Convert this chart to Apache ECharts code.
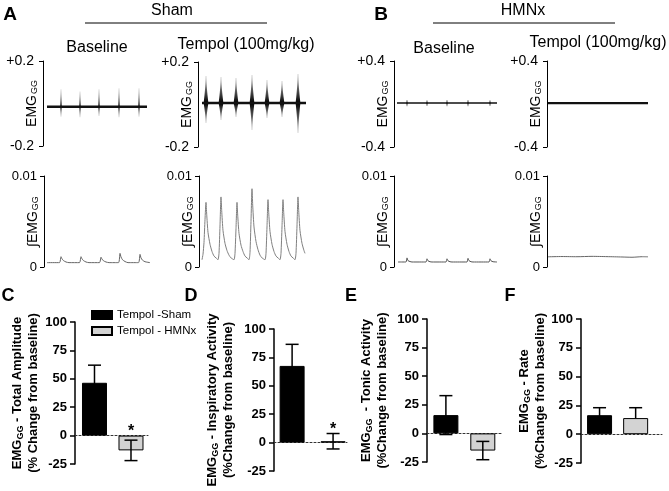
<!DOCTYPE html>
<html><head><meta charset="utf-8">
<script src="https://cdn.jsdelivr.net/npm/echarts@6/dist/echarts.min.js"></script>
<style>html,body{margin:0;padding:0;background:#fff}#c{width:669px;height:491px}</style>
</head><body><div id="c"></div>
<script>
// ================= DATA =================
const groups = ['Tempol -Sham', 'Tempol - HMNx'];
const barX = [1, 2];

// C - total amplitude (% change from baseline)
const totalAmplitude = [46.5, -13];
const totalAmplitudeSemUp = [15.5, 9];
const totalAmplitudeSemDown = [15.5, 9];
const totalAmplitudeSig = ['', '*'];
// D - inspiratory activity
const inspiratory = [67.5, 1.2];
const inspiratorySemUp = [19, 6.8];
const inspiratorySemDown = [19, 6.8];
const inspiratorySig = ['', '*'];
// E - tonic activity
const tonic = [16, -15];
const tonicSemUp = [17, 8];
const tonicSemDown = [17, 8];
const tonicSig = ['', ''];
// F - rate
const rate = [16.5, 14];
const rateSemUp = [6.5, 9];
const rateSemDown = [6.5, 0];
const rateSig = ['', ''];

// Raw EMG traces: level, span [start,end], bursts [time, top, bottom]
const rawShamBaseLevel = -0.015;
const rawShamBaseSpan = [4, 104];
const rawShamBaseBursts = [[18, 0.067, -0.062], [37, 0.056, -0.065], [56, 0.067, -0.059], [76, 0.072, -0.065], [96, 0.072, -0.062]];

const rawShamTempolLevel = 0.007;
const rawShamTempolSpan = [4, 108];
const rawShamTempolBursts = [[8, 0.134, -0.087], [23, 0.129, -0.073], [38, 0.125, -0.059], [54, 0.139, -0.12], [69, 0.115, -0.064], [84, 0.111, -0.059], [100, 0.144, -0.134]];

const rawHmnxBaseLevel = 0.009;
const rawHmnxBaseSpan = [3, 103];
const rawHmnxBaseBursts = [[13, 0.038, -0.02], [33, 0.036, -0.019], [53, 0.037, -0.02], [74, 0.038, -0.02], [96, 0.036, -0.019]];

const rawHmnxTempolLevel = 0.009;
const rawHmnxTempolSpan = [1, 101];
const rawHmnxTempolBursts = [];

// Integrated EMG traces [time, value]
const intShamBase = [[3,0.00048],[15.5,0.00048],[17,0.00113],[18,0.0009],[19.5,0.0007],[22,0.00055],[25,0.00048],
  [35.5,0.00048],[37,0.00113],[38,0.0009],[39.5,0.0007],[42,0.00055],[45,0.00048],
  [55.5,0.00048],[57,0.00107],[58,0.00087],[59.5,0.00068],[62,0.00055],[65,0.00048],
  [74.5,0.00048],[76,0.0015],[77,0.0011],[78.5,0.0008],[81,0.0006],[84,0.00048],
  [94.5,0.00048],[96,0.00139],[97,0.001],[98.5,0.00075],[101,0.00058],[106,0.00048]];

const intShamTempol = [[3,0.0008],[4,0.0014],[5,0.0027],[6,0.0052],[7,0.0071],[7.7,0.0058],[9,0.0038],[11,0.0025],[13,0.0017],[15,0.0012],[17,0.001],[19,0.0008],
  [20,0.0015],[21,0.0045],[22,0.0077],[22.7,0.0062],[24,0.004],[26,0.0026],[28,0.0018],[30,0.0013],[32,0.001],[35,0.0008],
  [36,0.0015],[37,0.0042],[38,0.0071],[38.7,0.0057],[40,0.0037],[42,0.0024],[44,0.0017],[46,0.0012],[48,0.001],[50,0.0008],
  [51,0.0016],[52,0.005],[53,0.0086],[53.7,0.0068],[55,0.0044],[57,0.0028],[59,0.0019],[61,0.0013],[63,0.001],[66,0.0008],
  [67,0.0015],[68,0.0044],[69,0.0074],[69.7,0.006],[71,0.0039],[73,0.0025],[75,0.0017],[77,0.0012],[79,0.001],[81,0.0008],
  [82,0.0015],[83,0.0044],[84,0.0074],[84.7,0.006],[86,0.0039],[88,0.0025],[90,0.0017],[92,0.0012],[94,0.001],[96,0.0008],
  [97,0.0015],[98,0.0045],[99,0.0077],[99.7,0.0062],[101,0.004],[103,0.0026],[105,0.0018],[106,0.0015]];

const intHmnxBase = [[4,0.00055],[12,0.00055],[13,0.001],[14,0.0007],[16,0.0006],[18,0.00055],
  [32,0.00055],[33,0.0009],[34,0.00068],[36,0.00058],[38,0.00055],
  [52,0.00055],[53,0.0009],[54,0.00068],[56,0.00058],[58,0.00055],
  [73,0.00055],[74,0.00095],[75,0.0007],[77,0.00058],[79,0.00055],
  [95,0.00055],[96,0.0009],[97,0.00068],[99,0.00058],[103,0.00055]];

const intHmnxTempol = [[1,0.00112],[15,0.00115],[30,0.00113],[45,0.00117],[60,0.00114],[75,0.0011],[85,0.00107],[95,0.00113],[101,0.00112]];

// Axis tick limits
const rawShamLimit = 0.2;
const rawHmnxLimit = 0.4;
const intMax = 0.01;
const barMin = -25, barMax = 100, barStep = 25;

// ================= BUILD =================
const FF = 'Liberation Sans, Arial, sans-serif';
const grids = [], xAxes = [], yAxes = [], series = [];

function addGrid(box, xMin, xMax, yCfg, xCfg) {
  const i = grids.length;
  grids.push({ left: box[0], top: box[1], width: box[2], height: box[3], containLabel: false, outerBoundsMode: 'none' });
  xAxes.push(Object.assign({ gridIndex: i, type: 'value', min: xMin, max: xMax, show: false, nameMoveOverlap: false }, xCfg || {}));
  yAxes.push(Object.assign({ gridIndex: i, nameMoveOverlap: false }, yCfg));
  return i;
}

const emgRich = {
  m: { fontSize: 14, fontFamily: FF, color: '#000', lineHeight: 14, verticalAlign: 'top' },
  s: { fontSize: 9, fontFamily: FF, color: '#000', lineHeight: 9, padding: [8, 0, 0, 1], verticalAlign: 'bottom' }
};

function rawY(lim) {
  return {
    type: 'value', min: -lim, max: lim, interval: 2 * lim,
    name: '{m|EMG}{s|GG}', nameLocation: 'middle', nameRotate: 90, nameGap: 4,
    nameTextStyle: { fontSize: 14, rich: emgRich },
    axisLine: { show: true, onZero: false, lineStyle: { color: '#000', width: 1 } },
    axisTick: { show: true, length: 4, lineStyle: { color: '#000', width: 1 } },
    axisLabel: { margin: 9, fontSize: 14, fontFamily: FF, color: '#000',
      formatter: v => (v > 0 ? '+' : '-') + Math.abs(v).toFixed(1) },
    splitLine: { show: false }
  };
}
function intY() {
  return {
    type: 'value', min: 0, max: intMax, interval: intMax,
    name: '{m|∫EMG}{s|GG}', nameLocation: 'middle', nameRotate: 90, nameGap: 4,
    nameTextStyle: { fontSize: 14, rich: emgRich },
    axisLine: { show: true, onZero: false, lineStyle: { color: '#000', width: 1 } },
    axisTick: { show: true, length: 4, lineStyle: { color: '#000', width: 1 } },
    axisLabel: { margin: 7, fontSize: 13, fontFamily: FF, color: '#000',
      formatter: v => (v === 0 ? '0' : String(+v.toFixed(3))) },
    splitLine: { show: false }
  };
}

function burstRender(level, hw, tipColor) {
  return function (params, api) {
    const t = api.value(0), top = api.value(1), bot = api.value(2);
    const pT = api.coord([t, top]), pM = api.coord([t, level]), pB = api.coord([t, bot]);
    const N = 10, right = [], left = [];
    for (let i = N; i >= 0; i--) { const f = i / N; right.push([pM[0] + hw * Math.pow(1 - f, 1.6) + 0.3, pM[1] + (pT[1] - pM[1]) * f]); }
    for (let i = 1; i <= N; i++) { const f = i / N; right.push([pM[0] + hw * Math.pow(1 - f, 1.6) + 0.3, pM[1] + (pB[1] - pM[1]) * f]); }
    for (let i = right.length - 1; i >= 0; i--) left.push([2 * pM[0] - right[i][0], right[i][1]]);
    const total = Math.max(1, pB[1] - pT[1]);
    const mid = Math.min(0.99, Math.max(0.01, (pM[1] - pT[1]) / total));
    return {
      type: 'polygon',
      shape: { points: right.concat(left) },
      style: { fill: { type: 'linear', x: 0, y: 0, x2: 0, y2: 1,
        colorStops: [{ offset: 0, color: tipColor }, { offset: mid, color: '#000' }, { offset: 1, color: tipColor }] } }
    };
  };
}

function addRaw(box, xMax, lim, level, span, bursts, hw, lineW, tipColor) {
  const i = addGrid(box, 0, xMax, rawY(lim));
  if (bursts.length) series.push({ type: 'custom', xAxisIndex: i, yAxisIndex: i, renderItem: burstRender(level, hw, tipColor), data: bursts, silent: true, z: 2 });
  series.push({ type: 'line', xAxisIndex: i, yAxisIndex: i, data: [[span[0], level], [span[1], level]], symbol: 'none', lineStyle: { color: '#111', width: lineW }, silent: true, z: 3 });
}
function addInt(box, xMax, data, color) {
  const i = addGrid(box, 0, xMax, intY());
  series.push({ type: 'line', xAxisIndex: i, yAxisIndex: i, data: data, symbol: 'none', smooth: 0.2, lineStyle: { color: color, width: 1 }, silent: true });
}

addRaw([43, 61, 110, 85], 110, rawShamLimit, rawShamBaseLevel, rawShamBaseSpan, rawShamBaseBursts, 0.45, 2.6, '#ccc');
addRaw([198, 62, 112, 85], 112, rawShamLimit, rawShamTempolLevel, rawShamTempolSpan, rawShamTempolBursts, 2.1, 2.6, '#bbb');
addRaw([394, 61, 108, 86], 108, rawHmnxLimit, rawHmnxBaseLevel, rawHmnxBaseSpan, rawHmnxBaseBursts, 0.4, 1.5, '#555');
addRaw([547, 61, 110, 86], 110, rawHmnxLimit, rawHmnxTempolLevel, rawHmnxTempolSpan, rawHmnxTempolBursts, 1, 2.2, '#555');

addInt([44, 176, 110, 91], 110, intShamBase, '#666');
addInt([199, 176, 112, 91], 112, intShamTempol, '#808080');
addInt([394, 176, 108, 91], 108, intHmnxBase, '#555');
addInt([547, 176, 110, 91], 110, intHmnxTempol, '#666');

function errRender(sig) {
  return function (params, api) {
    const x = api.value(0), m = api.value(1), up = api.value(2), dn = api.value(3);
    const hi = api.coord([x, m + up]), lo = api.coord([x, m - dn]);
    const cap = 6.5;
    const ls = { stroke: '#000', lineWidth: 1.5 };
    const ch = [
      { type: 'line', shape: { x1: hi[0], y1: hi[1], x2: lo[0], y2: lo[1] }, style: ls },
      { type: 'line', shape: { x1: hi[0] - cap, y1: hi[1], x2: hi[0] + cap, y2: hi[1] }, style: ls }
    ];
    if (dn > 0) ch.push({ type: 'line', shape: { x1: lo[0] - cap, y1: lo[1], x2: lo[0] + cap, y2: lo[1] }, style: ls });
    const s = sig[params.dataIndex];
    if (s) {
      const base = api.coord([x, Math.max(0, m + up)]);
      ch.push({ type: 'text', x: base[0], y: base[1] - 4, style: { text: s, font: 'bold 16px ' + FF, fill: '#000', align: 'center', verticalAlign: 'middle' } });
    }
    return { type: 'group', children: ch };
  };
}

function addBar(box, xMin, xMax, title, nameGap, vals, semUp, semDown, sig) {
  const i = addGrid(box, xMin, xMax, {
    type: 'value', min: barMin, max: barMax, interval: barStep,
    name: title, nameLocation: 'middle', nameRotate: 90, nameGap: nameGap,
    nameTextStyle: { rich: {
      b: { fontSize: 13, fontWeight: 'bold', fontFamily: FF, color: '#000', lineHeight: 16 },
      bs: { fontSize: 9, fontWeight: 'bold', fontFamily: FF, color: '#000', lineHeight: 9, padding: [8, 0, 0, 0], verticalAlign: 'bottom' }
    } },
    axisLine: { show: true, onZero: false, lineStyle: { color: '#000', width: 1.5 } },
    axisTick: { show: true, length: 5, lineStyle: { color: '#000', width: 1.5 } },
    axisLabel: { margin: 8, fontSize: 13, fontWeight: 'bold', fontFamily: FF, color: '#000' },
    splitLine: { show: false }
  }, {
    show: true,
    axisLine: { show: true, onZero: true, lineStyle: { color: '#333', width: 1, type: [2, 2] } },
    axisTick: { show: false }, axisLabel: { show: false }, splitLine: { show: false }
  });
  series.push({ type: 'bar', name: groups[0], xAxisIndex: i, yAxisIndex: i, barWidth: 25, barGap: '-100%',
    data: [[barX[0], vals[0]]], itemStyle: { color: '#000', borderColor: '#000', borderWidth: 1 }, silent: true });
  series.push({ type: 'bar', name: groups[1], xAxisIndex: i, yAxisIndex: i, barWidth: 25, barGap: '-100%',
    data: [[barX[1], vals[1]]], itemStyle: { color: '#d3d3d3', borderColor: '#000', borderWidth: 1 }, silent: true });
  series.push({ type: 'custom', xAxisIndex: i, yAxisIndex: i, renderItem: errRender(sig), silent: true, z: 5,
    data: barX.map((x, k) => [x, vals[k], semUp[k], semDown[k]]) });
}

addBar([75, 322, 73, 142], 0.466, 2.466, '{b|EMG}{bs|GG}{b| - Total Amplitude}\n{b|(% Change from baseline)}', 34, totalAmplitude, totalAmplitudeSemUp, totalAmplitudeSemDown, totalAmplitudeSig);
addBar([274, 329, 73, 142], 0.558, 2.34, '{b|EMG}{bs|GG}{b| - Inspiratory Activity}\n{b|(%Change from baseline)}', 38, inspiratory, inspiratorySemUp, inspiratorySemDown, inspiratorySig);
addBar([427, 319, 75, 143], 0.488, 2.52, '{b|EMG}{bs|GG}{b|  - Tonic Activity}\n{b|(%Change from baseline)}', 37, tonic, tonicSemUp, tonicSemDown, tonicSig);
addBar([581, 319, 81, 144], 0.486, 2.73, '{b|EMG}{bs|GG}{b| - Rate}\n{b|(%Change from baseline)}', 33, rate, rateSemUp, rateSemDown, rateSig);

function txt(x, y, text, font) {
  return { type: 'text', x: x, y: y, style: { text: text, font: font, fill: '#000', align: 'center', verticalAlign: 'middle' } };
}
function hline(x1, x2, y) {
  return { type: 'line', shape: { x1: x1, y1: y, x2: x2, y2: y }, style: { stroke: '#000', lineWidth: 1 } };
}
const graphics = [
  txt(10, 15, 'A', 'bold 19px ' + FF),
  txt(172, 11, 'Sham', '16px ' + FF), hline(85, 267, 23),
  txt(97, 48, 'Baseline', '16px ' + FF),
  txt(246, 45, 'Tempol (100mg/kg)', '16px ' + FF),
  txt(381, 15, 'B', 'bold 19px ' + FF),
  txt(523, 11, 'HMNx', '16px ' + FF), hline(433, 615, 23),
  txt(444, 49, 'Baseline', '16px ' + FF),
  txt(598, 43, 'Tempol (100mg/kg)', '16px ' + FF),
  txt(8, 296, 'C', 'bold 18px ' + FF),
  txt(191, 296, 'D', 'bold 18px ' + FF),
  txt(351, 296, 'E', 'bold 18px ' + FF),
  txt(510, 296, 'F', 'bold 18px ' + FF)
];

const chart = echarts.init(document.getElementById('c'), null, { renderer: 'canvas' });
chart.setOption({
  animation: false,
  backgroundColor: '#fff',
  grid: grids, xAxis: xAxes, yAxis: yAxes, series: series,
  legend: { data: groups, left: 86, top: 304, orient: 'vertical', itemWidth: 20, itemHeight: 8, itemGap: 4, icon: 'rect',
    selectedMode: false, textStyle: { fontSize: 11.5, fontFamily: FF, color: '#000' } },
  graphic: graphics
});
</script></body></html>
